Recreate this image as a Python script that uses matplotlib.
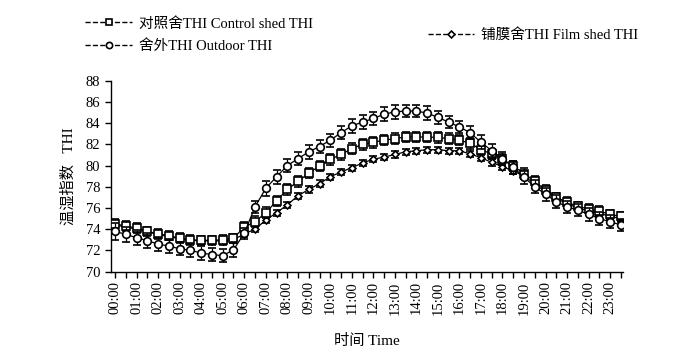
import matplotlib
matplotlib.use('Agg')
import matplotlib.pyplot as plt
from matplotlib.lines import Line2D
import numpy as np

plt.rcParams['font.family'] = ['Liberation Serif', 'Noto Sans CJK SC']

# half-hourly readings, 00:00 .. 23:30
hours = np.arange(48) * 0.5
tick_labels = ['{:02d}:00'.format(h) for h in range(24)]

outdoor = [73.8, 73.5, 73.2, 72.9, 72.6, 72.4, 72.15, 72.0, 71.75, 71.6, 71.5, 72.05,
           73.6, 76.1, 77.85, 78.95, 80.0, 80.65, 81.3, 81.8, 82.4, 83.1, 83.75, 84.1,
           84.45, 84.85, 85.07, 85.15, 85.15, 84.95, 84.55, 84.1, 83.65, 83.1, 82.2, 81.4,
           80.65, 79.85, 78.9, 78.0, 77.3, 76.6, 76.1, 75.8, 75.4, 75.0, 74.7, 74.4]
control = [74.5, 74.3, 74.1, 73.8, 73.55, 73.4, 73.15, 73.0, 72.95, 72.95, 73.0, 73.15,
           74.2, 74.7, 75.55, 76.65, 77.75, 78.5, 79.3, 79.95, 80.6, 81.05, 81.6, 82.0,
           82.2, 82.4, 82.55, 82.7, 82.7, 82.7, 82.65, 82.55, 82.4, 82.1, 81.5, 81.1,
           80.6, 79.95, 79.25, 78.5, 77.7, 77.0, 76.55, 76.15, 75.9, 75.7, 75.4, 75.2]
film = [74.4, 74.2, 74.0, 73.75, 73.5, 73.3, 73.1, 72.95, 72.9, 72.9, 72.9, 73.0,
        73.55, 74.0, 74.85, 75.55, 76.3, 77.15, 77.75, 78.3, 78.95, 79.4, 79.8, 80.25,
        80.6, 80.8, 81.05, 81.3, 81.4, 81.5, 81.5, 81.4, 81.4, 81.1, 80.75, 80.3,
        79.9, 79.5, 79.0, 78.3, 77.5, 76.9, 76.4, 76.0, 75.7, 75.5, 75.2, 75.0]

outdoor_err = [0.8, 0.7, 0.7, 0.7, 0.65, 0.65, 0.6, 0.65, 0.65, 0.6, 0.6, 0.65,
               0.5, 0.6, 0.7, 0.65, 0.65, 0.6, 0.65, 0.65, 0.6, 0.6, 0.65, 0.65,
               0.6, 0.65, 0.65, 0.6, 0.6, 0.65, 0.6, 0.6, 0.6, 0.6, 0.65, 0.6,
               0.6, 0.6, 0.6, 0.6, 0.6, 0.6, 0.6, 0.6, 0.6, 0.6, 0.6, 0.6]
control_err = [0.45, 0.45, 0.45, 0.45, 0.45, 0.4, 0.45, 0.45, 0.45, 0.45, 0.45, 0.4,
               0.45, 0.5, 0.5, 0.5, 0.5, 0.5, 0.5, 0.5, 0.5, 0.5, 0.5, 0.5,
               0.5, 0.5, 0.5, 0.5, 0.5, 0.5, 0.5, 0.5, 0.5, 0.5, 0.5, 0.5,
               0.5, 0.5, 0.5, 0.5, 0.5, 0.45, 0.45, 0.45, 0.45, 0.45, 0.45, 0.45]
film_err = [0.3, 0.3, 0.3, 0.3, 0.3, 0.3, 0.3, 0.3, 0.3, 0.3, 0.3, 0.3,
            0.3, 0.3, 0.3, 0.3, 0.3, 0.3, 0.3, 0.3, 0.3, 0.3, 0.3, 0.3,
            0.3, 0.3, 0.3, 0.3, 0.3, 0.3, 0.3, 0.3, 0.3, 0.3, 0.3, 0.3,
            0.3, 0.3, 0.3, 0.3, 0.3, 0.3, 0.3, 0.3, 0.3, 0.3, 0.3, 0.3]

fig = plt.figure(figsize=(7.0, 3.64), dpi=100)
ax = fig.add_axes([0.158, 0.254, 0.732, 0.524])

style = dict(color='black', lw=0.9, mfc='white', mec='black', mew=1.2,
             ecolor='black', elinewidth=0.9, capsize=3, capthick=0.9)
ax.errorbar(hours, film, yerr=film_err, marker='D', ms=3.5, zorder=3, **style)
ax.errorbar(hours, control, yerr=control_err, marker='s', ms=5.5, zorder=4, **style)
ax.errorbar(hours, outdoor, yerr=outdoor_err, marker='o', ms=5.5, zorder=5, **style)

ax.set_xlim(-0.21, 23.6)
ax.set_ylim(70, 88)
ax.set_yticks(range(70, 89, 2))
ax.set_xticks(range(24))
ax.set_xticklabels(tick_labels, rotation=90, fontsize=10.5)
ax.set_xticks(np.arange(0.5, 24, 1.0), minor=True)
ax.tick_params(axis='both', which='both', direction='out', length=4, width=1, labelsize=10.5)
ax.tick_params(axis='x', which='both', pad=3)
for s in ['top', 'right']:
    ax.spines[s].set_visible(False)
for s in ['left', 'bottom']:
    ax.spines[s].set_linewidth(1)

ax.set_xlabel('时间 Time', fontsize=11, labelpad=14)
ax.set_ylabel('温湿指数   THI', fontsize=11, labelpad=7)

def handle(marker, ms):
    return Line2D([], [], color='black', ls='--', lw=1, marker=marker, ms=ms,
                  mfc='white', mec='black', mew=1.2)

fig.legend(handles=[handle('s', 4.5), handle('o', 4.5)],
           labels=['对照舍THI Control shed THI', '舍外THI Outdoor THI'],
           loc='upper left', bbox_to_anchor=(0.103, 0.99), frameon=False,
           fontsize=10.5, handlelength=3.2, handletextpad=0.5, labelspacing=0.62)
fig.legend(handles=[handle('D', 3.5)], labels=['铺膜舍THI Film shed THI'],
           loc='upper left', bbox_to_anchor=(0.592, 0.96), frameon=False,
           fontsize=10.5, handlelength=3.2, handletextpad=0.5)

fig.savefig('out.png', dpi=100)
